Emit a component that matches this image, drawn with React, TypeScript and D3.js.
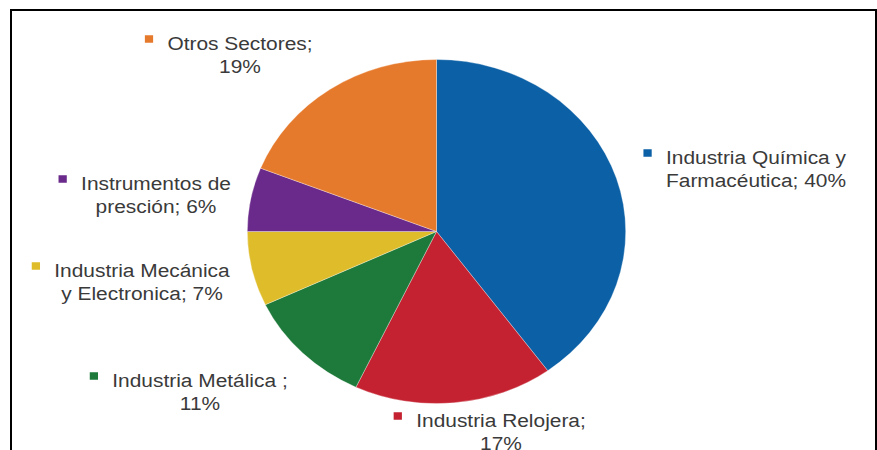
import React, { useEffect, useRef } from "react";
import * as d3 from "d3";

const categories = [
  "Industria Química y Farmacéutica",
  "Industria Relojera",
  "Industria Metálica ",
  "Industria Mecánica y Electronica",
  "Instrumentos de presción",
  "Otros Sectores",
];
const values = [40, 17, 11, 7, 6, 19];
const colors = ["#0b60a6", "#c42230", "#1e7a3b", "#dfbc2a", "#6a2a8b", "#e67a2c"];
const labelLines = [
  ["Industria Química y", "Farmacéutica; 40%"],
  ["Industria Relojera;", "17%"],
  ["Industria Metálica ;", "11%"],
  ["Industria Mecánica", "y Electronica; 7%"],
  ["Instrumentos de", "presción; 6%"],
  ["Otros Sectores;", "19%"],
];
// label anchor (text centre x, first baseline y) in screen pixels
const labelPos = [
  [756, 164],
  [501, 427],
  [200, 387],
  [142, 277],
  [156, 190],
  [240, 50],
];

const W = 877;
const H = 450;
const SX = 1.1; // horizontal stretch of the picture
const CX = 436.5;
const CY = 231.5;
const R = 172;

export default function App() {
  const ref = useRef<SVGSVGElement | null>(null);

  useEffect(() => {
    const svg = d3.select(ref.current);
    svg.selectAll("*").remove();

    svg
      .append("rect")
      .attr("width", W)
      .attr("height", H)
      .attr("fill", "#ffffff");

    const data = values.map((v, i) => ({ v, i }));
    const pie = d3
      .pie<{ v: number; i: number }>()
      .value((d) => d.v)
      .sort(null);
    const arc = d3
      .arc<d3.PieArcDatum<{ v: number; i: number }>>()
      .innerRadius(0)
      .outerRadius(R);

    const g = svg
      .append("g")
      .attr("transform", `translate(${CX},${CY}) scale(${SX},1)`);
    g.selectAll("path")
      .data(pie(data))
      .join("path")
      .attr("d", arc as any)
      .attr("fill", (d) => colors[d.data.i])
      .attr("stroke", "#ffffff")
      .attr("stroke-opacity", 0.5)
      .attr("stroke-width", 0.6);

    const fs = 19;
    const lh = 23;
    labelLines.forEach((lines, i) => {
      const [x, y] = labelPos[i];
      const lg = svg
        .append("g")
        .attr("transform", `translate(${x},${y}) scale(${SX},1)`);
      const texts = lines.map((line, j) =>
        lg
          .append("text")
          .attr("x", 0)
          .attr("y", j * lh)
          .attr("text-anchor", "middle")
          .attr("font-family", "'Liberation Sans', Arial, Helvetica, sans-serif")
          .attr("font-size", fs)
          .attr("fill", "#3a3a3a")
          .text(line)
      );
      const node = texts[0].node() as SVGTextElement;
      const w = node.getComputedTextLength();
      const ms = 7.5;
      lg.append("rect")
        .attr("x", -w / 2 - 13 - ms)
        .attr("y", -11 - ms / 2)
        .attr("width", ms)
        .attr("height", ms)
        .attr("fill", colors[i]);
    });

    svg
      .append("rect")
      .attr("x", 11)
      .attr("y", 10)
      .attr("width", 865)
      .attr("height", H + 20)
      .attr("fill", "none")
      .attr("stroke", "#000000")
      .attr("stroke-width", 2);
  }, []);

  return (
    <svg
      ref={ref}
      width={W}
      height={H}
      style={{ position: "absolute", left: 0, top: 0, display: "block" }}
    />
  );
}
